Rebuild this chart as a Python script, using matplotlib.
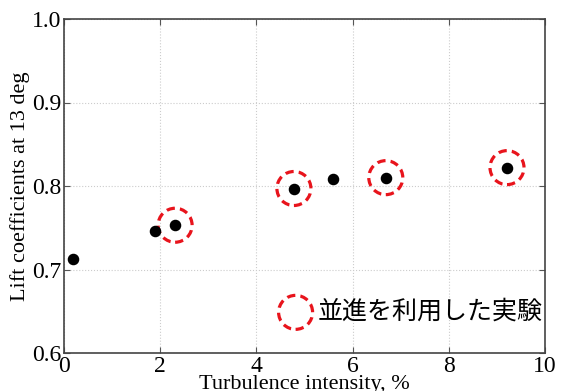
import matplotlib.pyplot as plt

plt.rcParams["font.family"] = ["Liberation Serif", "DejaVu Serif"]

# measured lift coefficients
turb_all = [0.19, 1.89, 2.31, 4.78, 5.59, 6.69, 9.21]
cl_all = [0.713, 0.746, 0.753, 0.797, 0.808, 0.810, 0.822]

# cases run with the translation rig
turb_trans = [2.31, 4.78, 6.69, 9.21]
cl_trans = [0.753, 0.797, 0.810, 0.822]

fig = plt.figure(figsize=(5.63, 3.91), dpi=100)
ax = fig.add_axes([64 / 563, 38 / 391, 481 / 563, 334 / 391])

ax.scatter(turb_trans, cl_trans, s=34 ** 2 / 1.93, facecolors="none", edgecolors="#e8141c",
           linewidths=2.3, linestyles=(0, (2.6, 1.6)), label="並進を利用した実験", zorder=3)
ax.plot(turb_all, cl_all, "o", color="black", markersize=7.3, zorder=4)

ax.set_xlim(0, 10)
ax.set_ylim(0.6, 1.0)
ax.set_xticks([0, 2, 4, 6, 8, 10])
ax.set_yticks([0.6, 0.7, 0.8, 0.9, 1.0])
ax.set_yticklabels(["0.6", "0.7", "0.8", "0.9", "1.0"])
ax.tick_params(direction="in", labelsize=17, top=True, right=True, length=4, color="#555555", pad=2)
ax.grid(True, linestyle=":", color="#cccccc", linewidth=0.8)
for sp in ax.spines.values():
    sp.set_color("#444444")
    sp.set_linewidth(1.2)

ax.set_xlabel("Turbulence intensity, %", fontsize=16, labelpad=-1)
ax.set_ylabel("Lift coefficients at 13 deg", fontsize=16, labelpad=1)

leg = ax.legend(loc="center right", bbox_to_anchor=(0.995, 0.123), frameon=False,
                handlelength=1.0, handletextpad=0.38, borderaxespad=0, borderpad=0,
                prop={"family": ["Noto Sans CJK JP", "DejaVu Sans"], "size": 18})

fig.savefig("out.png", dpi=100)
